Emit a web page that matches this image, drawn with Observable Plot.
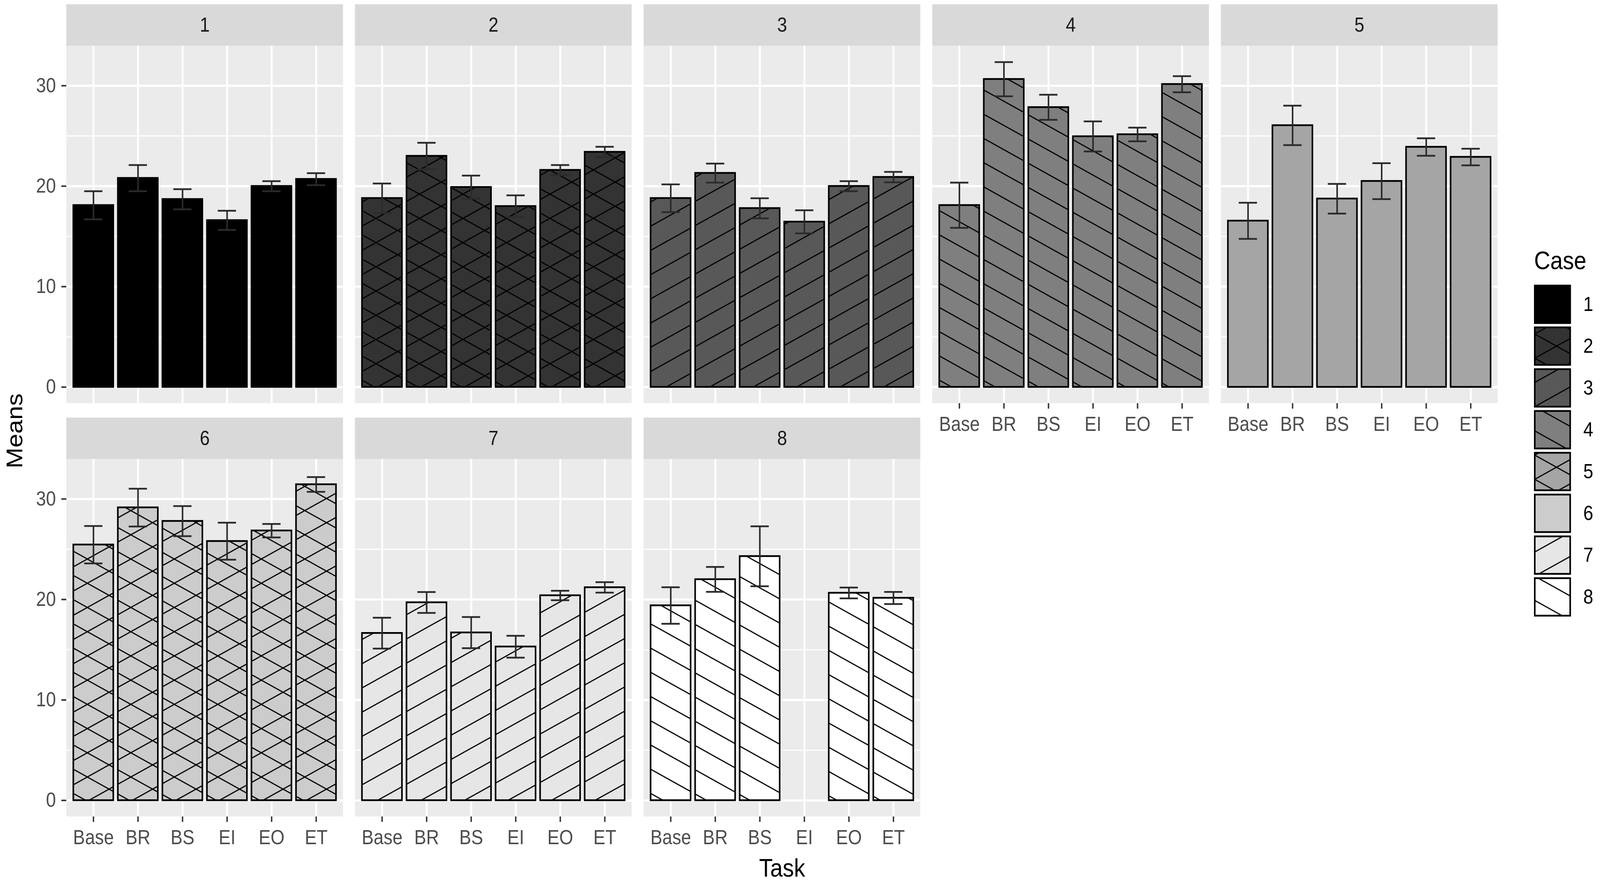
<!DOCTYPE html>
<html>
<head>
<meta charset="utf-8">
<script src="https://cdn.jsdelivr.net/npm/d3@7"></script>
<script src="https://cdn.jsdelivr.net/npm/@observablehq/plot@0.6"></script>
<style>
html, body { margin: 0; padding: 0; background: #ffffff; overflow: hidden; }
body { font-family: "Liberation Sans", Arial, sans-serif; }
#stage { position: absolute; left: 0; top: 0; width: 4562px; height: 2268px; transform-origin: 0 0; overflow: hidden; background: #ffffff; }
#chart { position: absolute; left: 0; top: 0; width: 4562px; height: 2268px; }
#legend { position: absolute; left: 4376px; top: 731px; width: 200px; height: 845px; overflow: visible; }
#titles { position: absolute; left: 0; top: 0; }
#stage svg { max-width: none !important; }
</style>
</head>
<body>
<svg width="0" height="0" style="position:absolute;left:0;top:0">
  <defs>
    <pattern id="pat-back" patternUnits="userSpaceOnUse" width="124" height="62">
      <path d="M-124,-62L248,124M-124,0L124,124M0,-62L248,62" stroke="#000" stroke-width="3" fill="none"/>
    </pattern>
    <pattern id="pat-fwd" patternUnits="userSpaceOnUse" width="124" height="62">
      <path d="M-124,124L248,-62M-124,62L124,-62M0,124L248,0" stroke="#000" stroke-width="3" fill="none"/>
    </pattern>
    <pattern id="pat-cross" patternUnits="userSpaceOnUse" width="124" height="62">
      <path d="M-124,-62L248,124M-124,0L124,124M0,-62L248,62M-124,124L248,-62M-124,62L124,-62M0,124L248,0" stroke="#000" stroke-width="3" fill="none"/>
    </pattern>
  </defs>
</svg>
<div id="stage">
  <div id="chart"></div>
  <div id="legend"></div>
  <svg id="titles" width="4562" height="2268" style="pointer-events:none">
    <text transform="translate(63,1103) rotate(-90)" text-anchor="middle" font-size="64" fill="#000">Means</text>
    <text x="2230" y="2244" text-anchor="middle" font-size="64" fill="#000">Task</text>
    <text x="4374" y="689" text-anchor="start" font-size="64" fill="#000">Case</text>
  </svg>
</div>
<script>
// ---- data ----
const tasks = ["Base", "BR", "BS", "EI", "EO", "ET"];
const cases = [1, 2, 3, 4, 5, 6, 7, 8];

const meanCase1 = [18.1, 20.8, 18.7, 16.6, 20.0, 20.7];
const meanCase2 = [18.8, 23.0, 19.9, 18.0, 21.6, 23.4];
const meanCase3 = [18.8, 21.3, 17.8, 16.45, 20.0, 20.9];
const meanCase4 = [18.1, 30.65, 27.85, 24.95, 25.15, 30.15];
const meanCase5 = [16.55, 26.05, 18.75, 20.5, 23.9, 22.9];
const meanCase6 = [25.45, 29.15, 27.8, 25.8, 26.85, 31.45];
const meanCase7 = [16.65, 19.7, 16.7, 15.3, 20.4, 21.2];
const meanCase8 = [19.4, 22.0, 24.3, null, 20.65, 20.15];

const errCase1 = [1.4, 1.3, 1.0, 0.95, 0.5, 0.6];
const errCase2 = [1.47, 1.32, 1.15, 1.09, 0.5, 0.52];
const errCase3 = [1.38, 0.95, 1.0, 1.15, 0.5, 0.52];
const errCase4 = [2.25, 1.7, 1.25, 1.5, 0.68, 0.8];
const errCase5 = [1.8, 1.96, 1.48, 1.79, 0.87, 0.83];
const errCase6 = [1.86, 1.88, 1.5, 1.84, 0.67, 0.73];
const errCase7 = [1.54, 1.04, 1.55, 1.09, 0.47, 0.52];
const errCase8 = [1.82, 1.24, 2.98, null, 0.54, 0.6];

const caseFills = ["#000000", "#333333", "#585858", "#7f7f7f", "#a5a5a5", "#cccccc", "#e6e6e6", "#ffffff"];
const panelPatterns = ["none", "cross", "fwd", "back", "none", "cross", "fwd", "back"];
const legendPatterns = ["none", "cross", "fwd", "back", "cross", "none", "fwd", "back"];

const yTicks = [0, 10, 20, 30];
const yMinor = [5, 15, 25];

// ---- build tables ----
const meansByCase = [meanCase1, meanCase2, meanCase3, meanCase4, meanCase5, meanCase6, meanCase7, meanCase8];
const errsByCase = [errCase1, errCase2, errCase3, errCase4, errCase5, errCase6, errCase7, errCase8];
const nCols = 5;
const patUrl = p => p === "none" ? "none" : `url(#pat-${p})`;

const panels = cases.map((c, i) => ({case: c, fx: i % nCols, fy: Math.floor(i / nCols)}));
const rows = [];
panels.forEach((p, i) => {
  tasks.forEach((t, j) => {
    const m = meansByCase[i][j], e = errsByCase[i][j];
    if (m == null) return;
    rows.push({case: p.case, fx: p.fx, fy: p.fy, task: t, mean: m, lo: m - e, hi: m + e,
      fill: caseFills[i], pattern: patUrl(panelPatterns[i])});
  });
});
const gridMajor = panels.flatMap(p => yTicks.map(v => ({...p, v})));
const gridMinor = panels.flatMap(p => yMinor.map(v => ({...p, v})));
const gridX = panels.flatMap(p => tasks.map(t => ({...p, task: t})));

// ggplot-like expansion of the value range
const maxHi = d3.max(rows, d => d.hi);
const yLo = -0.05 * maxHi;
const yHi = maxHi * 1.05;
const stripUnits = 106 / (916 / (yHi - yLo));
const yTop = yHi + stripUnits;

const font = "Liberation Sans, Arial, sans-serif";

const chart = Plot.plot({
  width: 4562,
  height: 2268,
  marginTop: 10,
  marginBottom: 177,
  marginLeft: 188,
  marginRight: 291,
  style: {fontFamily: font, background: "transparent", overflow: "visible", maxWidth: "none"},
  fx: {domain: [0, 1, 2, 3, 4], paddingInner: 0.0419, paddingOuter: 0, axis: null, label: null},
  fy: {domain: [0, 1], paddingInner: 0.0349, paddingOuter: 0, axis: null, label: null},
  x: {type: "band", domain: tasks, paddingInner: 0.1, paddingOuter: 0.15, axis: null, label: null},
  y: {domain: [yLo, yTop], axis: null, label: null},
  color: {type: "identity"},
  marks: [
    Plot.rect(panels, {fx: "fx", fy: "fy", y1: () => yLo, y2: () => yHi, fill: "#ebebeb"}),
    Plot.rect(panels, {fx: "fx", fy: "fy", y1: () => yHi, y2: () => yTop, fill: "#d9d9d9"}),
    Plot.text(panels, {fx: "fx", fy: "fy", y: () => (yHi + yTop) / 2, text: d => String(d.case),
      frameAnchor: "middle", fontSize: 51, fill: "#1a1a1a"}),
    Plot.ruleY(gridMinor, {fx: "fx", fy: "fy", y: "v", stroke: "#ffffff", strokeWidth: 2.8}),
    Plot.ruleY(gridMajor, {fx: "fx", fy: "fy", y: "v", stroke: "#ffffff", strokeWidth: 5.5}),
    Plot.ruleX(gridX, {fx: "fx", fy: "fy", x: "task", y1: () => yLo, y2: () => yHi, stroke: "#ffffff", strokeWidth: 5.5}),
    Plot.barY(rows, {fx: "fx", fy: "fy", x: "task", y: "mean", fill: "fill"}),
    Plot.barY(rows, {fx: "fx", fy: "fy", x: "task", y: "mean", fill: "pattern", stroke: "#000000", strokeWidth: 4.5}),
    Plot.ruleX(rows, {fx: "fx", fy: "fy", x: "task", y1: "lo", y2: "hi", stroke: "#2b2b2b", strokeWidth: 4.5}),
    Plot.tickY(rows, {fx: "fx", fy: "fy", x: "task", y: "hi", stroke: "#2b2b2b", strokeWidth: 4.5, insetLeft: 31, insetRight: 31}),
    Plot.tickY(rows, {fx: "fx", fy: "fy", x: "task", y: "lo", stroke: "#2b2b2b", strokeWidth: 4.5, insetLeft: 31, insetRight: 31}),
    Plot.axisY(yTicks, {facetAnchor: "left", tickSize: 14, tickPadding: 16, fontSize: 51,
      fill: "#4d4d4d", stroke: "#333333", strokeWidth: 4, label: null}),
    Plot.axisX({facetAnchor: "bottom-empty", tickSize: 14, tickPadding: 20, fontSize: 51,
      fill: "#4d4d4d", stroke: "#333333", strokeWidth: 4, label: null})
  ]
});
document.getElementById("chart").appendChild(chart);

// ---- legend ----
const legend = Plot.plot({
  width: 200,
  height: 845,
  marginTop: 0, marginBottom: 0, marginLeft: 0, marginRight: 99,
  style: {fontFamily: font, background: "transparent", overflow: "visible", maxWidth: "none"},
  x: {axis: null},
  y: {type: "band", domain: cases, paddingInner: 0.103, paddingOuter: 0, axis: null, label: null},
  color: {type: "identity"},
  marks: [
    Plot.cell(cases, {y: d => d, fill: d => caseFills[d - 1]}),
    Plot.cell(cases, {y: d => d, fill: d => patUrl(legendPatterns[d - 1]), stroke: "#000000", strokeWidth: 4.5}),
    Plot.text(cases, {y: d => d, text: d => String(d), frameAnchor: "right", dx: 37, textAnchor: "start",
      fontSize: 51, fill: "#000000"})
  ]
});
document.getElementById("legend").appendChild(legend);
document.querySelectorAll("#titles text").forEach(t => t.setAttribute("font-family", font));

// fit the 4562x2268 composition to the actual viewport
function fit() {
  const vw = window.innerWidth || document.documentElement.clientWidth;
  const vh = window.innerHeight || document.documentElement.clientHeight;
  const sx = vw / 4562, sy = vh / 2268;
  document.getElementById("stage").style.transform = `scale(${sx}, ${sy})`;
  document.body.style.width = vw + "px";
  document.body.style.height = vh + "px";
}
fit();
window.addEventListener("resize", fit);
</script>
</body>
</html>
